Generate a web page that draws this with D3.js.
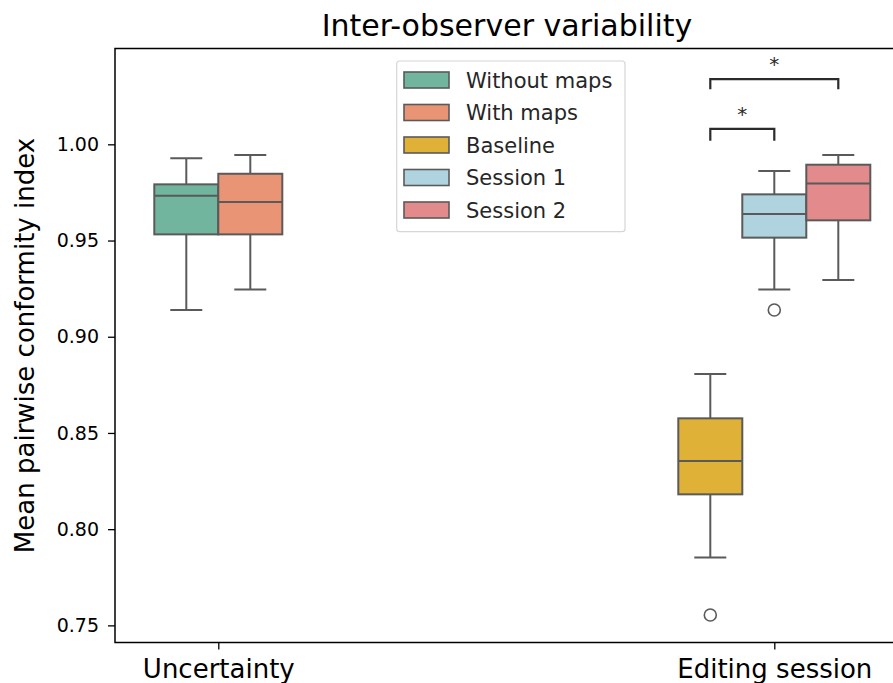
<!DOCTYPE html>
<html>
<head>
<meta charset="utf-8">
<script src="https://cdn.jsdelivr.net/npm/d3@7"></script>
<style>
  html, body { margin: 0; padding: 0; background: #fff; }
  svg { display: block; font-family: "DejaVu Sans", sans-serif; }
</style>
</head>
<body>
<svg id="chart" width="893" height="683"></svg>
<script>
// ---------------- data ----------------
const categories = ["Uncertainty", "Editing session"];
const hueLevels = ["Without maps", "With maps", "Baseline", "Session 1", "Session 2"];
const hueColors = ["#71b59f", "#e99575", "#dfb136", "#b0d4df", "#e38a8c"];
// groups: which hue levels appear under each category
const groupMembers = [["Without maps", "With maps"], ["Baseline", "Session 1", "Session 2"]];
// box statistics: [whiskerLow, q1, median, q3, whiskerHigh]
const boxStats = {
  "Without maps": [0.9139, 0.9532, 0.9733, 0.9792, 0.9927],
  "With maps":    [0.9246, 0.9532, 0.9700, 0.9847, 0.9944],
  "Baseline":     [0.7853, 0.8181, 0.8354, 0.8576, 0.8806],
  "Session 1":    [0.9246, 0.9515, 0.9638, 0.9740, 0.9861],
  "Session 2":    [0.9295, 0.9605, 0.9797, 0.9894, 0.9944]
};
const outliers = {
  "Baseline": [0.7554],
  "Session 1": [0.9139]
};
const yTicks = [0.75, 0.80, 0.85, 0.90, 0.95, 1.00];
const yDomain = [0.7411, 1.0498];
// significance brackets: [hueA, hueB, barLevel, legBottom, label]
const brackets = [
  ["Baseline", "Session 1", 1.0080, 1.0019, "*"],
  ["Baseline", "Session 2", 1.0339, 1.0286, "*"]
];

// ---------------- layout ----------------
(function () {
const svg = d3.select("#chart");
const mLeft = 115, mRight = 899, mTop = 48.5, mBottom = 642.5;
const lineColor = "#5a5a5a";

const x = d3.scaleLinear().domain([0, 1]).range([218.3, 774.3]);
const boxW = 64 / (774.3 - 218.3); // box width in category units
const y = d3.scaleLinear().domain(yDomain).range([mBottom, mTop]);

function hueX(ci, hue) {
  const members = groupMembers[ci];
  const i = members.indexOf(hue);
  const n = members.length;
  return ci + (i - (n - 1) / 2) * boxW;
}
const pxW = x(boxW) - x(0);

// boxes
categories.forEach((cat, ci) => {
  groupMembers[ci].forEach(hue => {
    const s = boxStats[hue];
    const cx = x(hueX(ci, hue));
    const col = hueColors[hueLevels.indexOf(hue)];
    const g = svg.append("g");
    g.append("line").attr("x1", cx).attr("x2", cx).attr("y1", y(s[0])).attr("y2", y(s[1]))
      .attr("stroke", lineColor).attr("stroke-width", 2);
    g.append("line").attr("x1", cx).attr("x2", cx).attr("y1", y(s[3])).attr("y2", y(s[4]))
      .attr("stroke", lineColor).attr("stroke-width", 2);
    [s[0], s[4]].forEach(v => {
      g.append("line").attr("x1", cx - pxW / 4).attr("x2", cx + pxW / 4)
        .attr("y1", y(v)).attr("y2", y(v)).attr("stroke", lineColor).attr("stroke-width", 2);
    });
    g.append("rect").attr("x", cx - pxW / 2).attr("width", pxW)
      .attr("y", y(s[3])).attr("height", y(s[1]) - y(s[3]))
      .attr("fill", col).attr("stroke", lineColor).attr("stroke-width", 2);
    g.append("line").attr("x1", cx - pxW / 2).attr("x2", cx + pxW / 2)
      .attr("y1", y(s[2])).attr("y2", y(s[2])).attr("stroke", lineColor).attr("stroke-width", 2);
    (outliers[hue] || []).forEach(v => {
      g.append("circle").attr("cx", cx).attr("cy", y(v)).attr("r", 6)
        .attr("fill", "none").attr("stroke", lineColor).attr("stroke-width", 1.6);
    });
  });
});

// brackets
brackets.forEach(b => {
  const x1 = x(hueX(1, b[0])), x2 = x(hueX(1, b[1]));
  const yb = y(b[2]), yl = y(b[3]);
  svg.append("path")
    .attr("d", `M${x1},${yl}L${x1},${yb}L${x2},${yb}L${x2},${yl}`)
    .attr("fill", "none").attr("stroke", "#2b2b2b").attr("stroke-width", 2.2);
  svg.append("text").attr("x", (x1 + x2) / 2).attr("y", yb - 8)
    .attr("text-anchor", "middle").attr("font-size", 20).attr("fill", "#2b2b2b").text(b[4]);
});

// axes
const yAxis = d3.axisLeft(y).tickValues(yTicks).tickFormat(d3.format(".2f")).tickSize(7).tickPadding(9);
const gy = svg.append("g").attr("transform", `translate(${mLeft},0)`).call(yAxis);
gy.select(".domain").remove();
gy.selectAll("text").attr("font-size", 19).attr("font-family", "DejaVu Sans").attr("fill", "#000");
gy.selectAll("line").attr("stroke", "#000").attr("stroke-width", 1.3);

const xAxis = d3.axisBottom(x).tickValues([0, 1]).tickFormat((d, i) => categories[i]).tickSize(7).tickPadding(10);
const gx = svg.append("g").attr("transform", `translate(0,${mBottom})`).call(xAxis);
gx.select(".domain").remove();
gx.selectAll("text").attr("font-size", 26).attr("font-family", "DejaVu Sans").attr("fill", "#000");
gx.selectAll("line").attr("stroke", "#000").attr("stroke-width", 1.3);

// frame
svg.append("rect").attr("x", mLeft).attr("y", mTop).attr("width", mRight - mLeft).attr("height", mBottom - mTop)
  .attr("fill", "none").attr("stroke", "#000").attr("stroke-width", 1.5);

// title & labels
svg.append("text").attr("x", (mLeft + mRight) / 2).attr("y", 36).attr("text-anchor", "middle")
  .attr("font-size", 30).attr("fill", "#000").text("Inter-observer variability");
svg.append("text").attr("transform", `translate(34,${(mTop + mBottom) / 2}) rotate(-90)`)
  .attr("text-anchor", "middle").attr("font-size", 26).attr("fill", "#000")
  .text("Mean pairwise conformity index");

// legend
const leg = svg.append("g");
leg.append("rect").attr("x", 396.7).attr("y", 61).attr("width", 228.3).attr("height", 170.7)
  .attr("rx", 3).attr("fill", "#fff").attr("fill-opacity", 0.8).attr("stroke", "#d6d6d6").attr("stroke-width", 1.2);
hueLevels.forEach((h, i) => {
  const cy = 80 + i * 32.5;
  leg.append("rect").attr("x", 404).attr("y", cy - 8).attr("width", 45).attr("height", 16)
    .attr("fill", hueColors[i]).attr("stroke", lineColor).attr("stroke-width", 1.6);
  leg.append("text").attr("x", 466).attr("y", cy).attr("dy", "0.36em")
    .attr("font-size", 21).attr("fill", "#262626").text(h);
});
})();
</script>
</body>
</html>
